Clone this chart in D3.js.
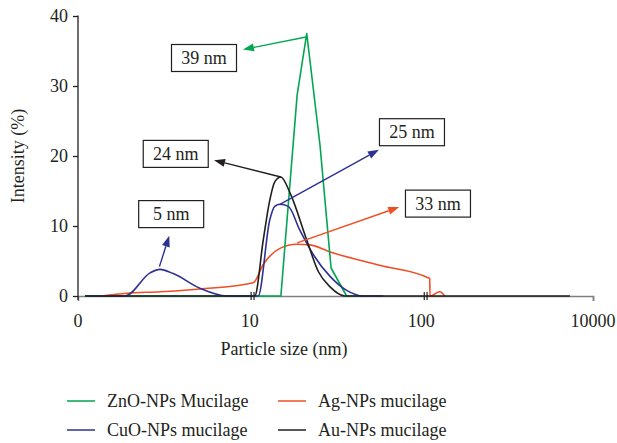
<!DOCTYPE html>
<html>
<head>
<meta charset="utf-8">
<script src="https://cdn.jsdelivr.net/npm/d3@7"></script>
<style>
  body { margin: 0; background: #fff; }
</style>
</head>
<body>
<div id="vis"></div>
<script>
// Data: particle size (nm) and intensity (%)
const znoSize = [1.1, 10.7, 15.2, 18.9, 21.5, 25.7, 29.8, 36.7, 45];
const znoInt  = [0, 0, 0, 28.7, 37.5, 21.5, 4, 0, 0];

const cuoSize = [1.1, 1.88, 2.63, 3.0, 3.59, 5.13, 7.35, 11.2, 13.1, 14.0, 15.0, 16.8, 19.6, 23.5, 29.4, 36.7, 45.9, 60];
const cuoInt  = [0, 0, 3.3, 3.8, 3.2, 1.1, 0, 0, 10.9, 12.8, 13.1, 12.8, 9.4, 5.9, 2.8, 0.8, 0, 0];

const agSize = [1.37, 1.92, 3.0, 5.13, 10.5, 12.0, 15.0, 18.8, 22.5, 29.4, 57, 112, 112.3, 128, 137];
const agInt  = [0, 0.4, 0.6, 1.0, 1.9, 4.5, 6.8, 7.4, 7.3, 6.3, 4.4, 2.5, 0, 0.6, 0];

const auSize = [1.1, 10.7, 12.0, 13.1, 14.0, 15.2, 17.2, 21.5, 25.1, 29.4, 35.9, 734];
const auInt  = [0, 0, 8, 13.7, 16.3, 17.0, 14.7, 8, 3.5, 1.3, 0, 0];

const seriesNames = ["ZnO-NPs Mucilage", "CuO-NPs mucilage", "Ag-NPs mucilage", "Au-NPs mucilage"];
const seriesColors = ["#00a651", "#2e3192", "#f04e23", "#231f20"];

const xTicks = [1, 10, 100, 1000];
const xTickLabels = ["0", "10", "100", "10000"];
const yTicks = [0, 10, 20, 30, 40];

// Annotations: label, arrow tail [size, int], arrow head [size, int], box centre [size, int]
const annLabels = ["39 nm", "25 nm", "24 nm", "5 nm", "33 nm"];
const annSeries = [0, 1, 3, 1, 2];
const annTail = [[21.3, 37.0], [15.0, 13.1], [15.2, 17.0], [2.98, 4.2], [18.9, 7.6]];
const annHead = [[9.14, 35.2], [56.6, 20.9], [6.2, 19.4], [3.40, 8.6], [74.3, 12.7]];
const annBox  = [[5.42, 34.0], [88.2, 23.4], [3.71, 20.3], [3.49, 11.7], [125, 13.2]];

const width = 617, height = 443;
const margin = {top: 16, right: 24, bottom: 147, left: 78};
const serif = "Liberation Serif, DejaVu Serif, serif";
const ink = "#231f20";

const svg = d3.create("svg").attr("width", width).attr("height", height)
  .attr("font-family", serif);

const xScale = d3.scaleLog().domain([1, 1000]).range([margin.left, width - margin.right]);
const yScale = d3.scaleLinear().domain([0, 40]).range([height - margin.bottom, margin.top]);

// x axis (grey line)
svg.append("g")
  .attr("transform", `translate(0,${yScale(0)})`)
  .call(d3.axisBottom(xScale).tickValues([1000]).tickSize(5).tickFormat(""))
  .call(g => g.select(".domain").attr("stroke", "#7f7f7f").attr("stroke-width", 1.5))
  .call(g => g.selectAll(".tick line").attr("stroke", "#7f7f7f").attr("stroke-width", 1.5));

svg.append("g").selectAll("text")
  .data(xTicks)
  .join("text")
  .attr("x", d => xScale(d))
  .attr("y", yScale(0) + 31)
  .attr("text-anchor", "middle")
  .attr("font-family", serif)
  .attr("font-size", 18)
  .attr("fill", ink)
  .text((d, i) => xTickLabels[i]);

// y axis
svg.append("g")
  .attr("transform", `translate(${margin.left},0)`)
  .call(d3.axisLeft(yScale).tickValues(yTicks).tickSize(5).tickSizeOuter(0))
  .call(g => g.select(".domain").attr("stroke", ink).attr("stroke-width", 1.3)
    .attr("d", `M0,${yScale(40) - 0.5}V${yScale(0) + 4}`))
  .call(g => g.selectAll(".tick line").attr("stroke", ink).attr("stroke-width", 1.3))
  .call(g => g.selectAll(".tick text")
    .attr("font-family", serif).attr("font-size", 18)
    .attr("fill", ink).attr("x", -10));

svg.append("text")
  .attr("transform", `translate(24,${(yScale(0) + yScale(40)) / 2}) rotate(-90)`)
  .attr("text-anchor", "middle")
  .attr("font-family", serif)
  .attr("font-size", 18)
  .attr("fill", ink)
  .text("Intensity (%)");

svg.append("text")
  .attr("x", 284)
  .attr("y", 355)
  .attr("text-anchor", "middle")
  .attr("font-family", serif)
  .attr("font-size", 18)
  .attr("fill", ink)
  .text("Particle size (nm)");

// lines (ZnO is drawn straight, the others are smoothed a little)
const straight = d3.line().x(d => xScale(d[0])).y(d => yScale(d[1]));
const smooth = d3.line().x(d => xScale(d[0])).y(d => yScale(d[1])).curve(d3.curveMonotoneX);
const series = [
  {sizes: agSize, ints: agInt, c: 2, line: smooth},
  {sizes: znoSize, ints: znoInt, c: 0, line: straight},
  {sizes: cuoSize, ints: cuoInt, c: 1, line: smooth},
  {sizes: auSize, ints: auInt, c: 3, line: smooth}
];
series.forEach(s => {
  svg.append("path")
    .datum(s.sizes.map((d, i) => [d, s.ints[i]]))
    .attr("fill", "none")
    .attr("stroke", seriesColors[s.c])
    .attr("stroke-width", 1.6)
    .attr("stroke-linejoin", "round")
    .attr("d", s.line);
});

// small tick marks crossing the baseline
svg.append("g").selectAll("line")
  .data([10.2, 10.6, 104, 108])
  .join("line")
  .attr("x1", d => xScale(d)).attr("x2", d => xScale(d))
  .attr("y1", yScale(0) - 4).attr("y2", yScale(0) + 4)
  .attr("stroke", ink).attr("stroke-width", 1.2);

// annotations
annLabels.forEach((label, i) => {
  const color = seriesColors[annSeries[i]];
  const x0 = xScale(annTail[i][0]), y0 = yScale(annTail[i][1]);
  const x1 = xScale(annHead[i][0]), y1 = yScale(annHead[i][1]);
  const ang = Math.atan2(y1 - y0, x1 - x0);
  const len = 11, half = 4;
  const bx = x1 - len * Math.cos(ang), by = y1 - len * Math.sin(ang);
  svg.append("line")
    .attr("x1", x0).attr("y1", y0).attr("x2", bx).attr("y2", by)
    .attr("stroke", color).attr("stroke-width", 1.4);
  svg.append("path")
    .attr("d", `M${x1},${y1}L${bx + half * Math.sin(ang)},${by - half * Math.cos(ang)}L${bx - half * Math.sin(ang)},${by + half * Math.cos(ang)}Z`)
    .attr("fill", color);

  const cx = xScale(annBox[i][0]), cy = yScale(annBox[i][1]);
  svg.append("rect")
    .attr("x", cx - 32.5).attr("y", cy - 13.5)
    .attr("width", 65).attr("height", 27)
    .attr("fill", "#fff").attr("stroke", ink).attr("stroke-width", 1.2);
  svg.append("text")
    .attr("x", cx).attr("y", cy + 6)
    .attr("text-anchor", "middle")
    .attr("font-family", serif)
    .attr("font-size", 18)
    .attr("fill", ink)
    .text(label);
});

// legend
const legendX = [67, 278];
const legendY = [401, 430];
seriesNames.forEach((name, i) => {
  const lx = legendX[i === 2 || i === 3 ? 1 : 0];
  const ly = legendY[i === 1 || i === 3 ? 1 : 0];
  svg.append("line")
    .attr("x1", lx).attr("x2", lx + 28)
    .attr("y1", ly).attr("y2", ly)
    .attr("stroke", seriesColors[i]).attr("stroke-width", 2).attr("opacity", 0.75);
  svg.append("text")
    .attr("x", lx + 40).attr("y", ly + 6)
    .attr("font-family", serif)
    .attr("font-size", 18)
    .attr("fill", ink)
    .text(name);
});

document.getElementById("vis").appendChild(svg.node());
</script>
</body>
</html>
